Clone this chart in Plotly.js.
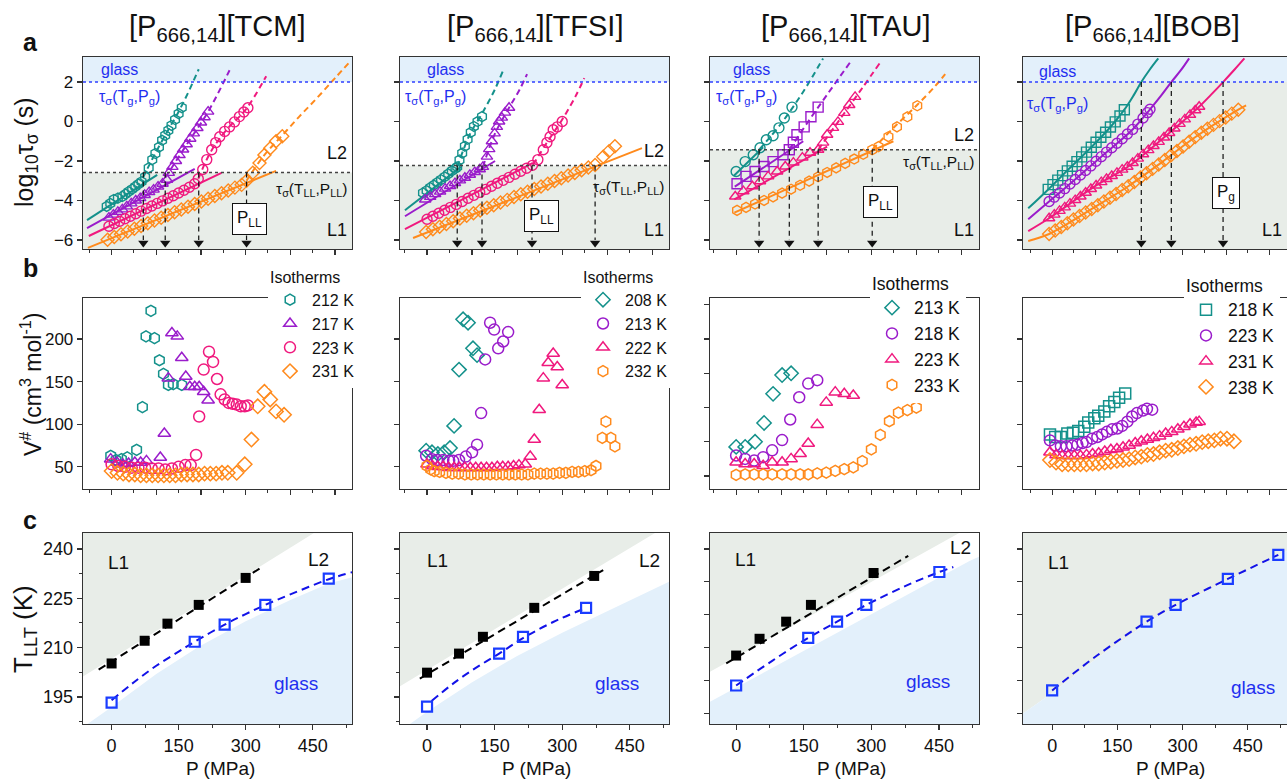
<!DOCTYPE html>
<html><head><meta charset="utf-8">
<script src="https://cdn.plot.ly/plotly-3.0.1.min.js"></script>
<style>html,body{margin:0;padding:0;background:#fff}#chart{width:1287px;height:781px}</style>
</head><body><div id="chart"></div>
<script>
// ---------------- DATA ----------------
const columnNames = ['TCM','TFSI','TAU','BOB'];
// temperatures of the isotherms (legend labels)
const tcm_T = ['212 K','217 K','223 K','231 K'];
const tfsi_T = ['208 K','213 K','222 K','232 K'];
const tau_T = ['213 K','218 K','223 K','233 K'];
const bob_T = ['218 K','223 K','231 K','238 K'];

// ---- row a : log10 tau vs P ----
const tcm_a_212_P=[-11,-3,5,14,24,31,38,46,53,60,67,75,83,91,98,106,113,120,127,134,142,150,157];
const tcm_a_212_y=[-4.3,-4.15,-3.95,-3.88,-3.8,-3.68,-3.55,-3.43,-3.3,-3.17,-3.05,-2.8,-2.35,-1.93,-1.62,-1.3,-0.95,-0.7,-0.45,-0.2,0.1,0.4,0.7];
const tcm_a_212_fitP=[-55,102], tcm_a_212_fitY=[-5.0,-2.7];
const tcm_a_212_dashP=[70,90,110,130,150,170,195], tcm_a_212_dashY=[-2.85,-1.95,-1.1,-0.3,0.5,1.4,2.65];
const tcm_a_217_P=[-6,4,14,24,34,44,54,64,74,84,94,104,114,124,128,136,144,152,160,168,176,184,192,200,208,216];
const tcm_a_217_y=[-4.87,-4.72,-4.58,-4.45,-4.3,-4.15,-4.0,-3.88,-3.72,-3.58,-3.45,-3.3,-3.15,-2.95,-2.6,-2.3,-2.0,-1.7,-1.42,-1.15,-0.87,-0.6,-0.33,-0.05,0.22,0.5];
const tcm_a_217_fitP=[-55,186], tcm_a_217_fitY=[-5.4,-2.4];
const tcm_a_217_dashP=[120,170,216,264], tcm_a_217_dashY=[-2.85,-1.1,0.5,2.6];
const tcm_a_223_P=[-6,6,18,30,42,54,66,78,90,102,114,126,138,150,162,174,186,194,204,213,224,233,242,253,264,275,286,296,305];
const tcm_a_223_y=[-5.31,-5.17,-5.05,-4.93,-4.8,-4.67,-4.54,-4.41,-4.28,-4.15,-4.02,-3.89,-3.76,-3.62,-3.48,-3.33,-3.15,-2.9,-2.43,-1.93,-1.43,-1.07,-0.77,-0.5,-0.27,-0.02,0.25,0.48,0.7];
const tcm_a_223_fitP=[-51,246], tcm_a_223_fitY=[-5.8,-2.6];
const tcm_a_223_dashP=[194,224,260,300,346], tcm_a_223_dashY=[-2.9,-1.45,-0.35,0.6,2.3];
const tcm_a_231_P=[-9,6,21,36,51,66,81,96,111,126,141,156,171,186,201,216,231,246,261,276,291,302,316,331,342,355,368,382];
const tcm_a_231_y=[-5.99,-5.85,-5.71,-5.57,-5.43,-5.29,-5.16,-5.02,-4.88,-4.74,-4.6,-4.46,-4.32,-4.18,-4.05,-3.91,-3.77,-3.63,-3.49,-3.35,-3.21,-3.0,-2.6,-2.1,-1.7,-1.35,-1.0,-0.75];
const tcm_a_231_fitP=[-53,368], tcm_a_231_fitY=[-6.4,-2.5];
const tcm_a_231_dashP=[302,340,380,420,460,500,530], tcm_a_231_dashY=[-3.0,-1.75,-0.75,0.25,1.2,2.2,2.95];

const tfsi_a_208_P=[-9,-1,7,15,23,31,39,47,55,63,67,72,78,84,90,97,104,112,122];
const tfsi_a_208_y=[-3.62,-3.5,-3.35,-3.22,-3.08,-2.95,-2.8,-2.65,-2.5,-2.38,-2.3,-1.95,-1.6,-1.25,-0.9,-0.55,-0.25,0.0,0.25];
const tfsi_a_208_fitP=[-49,75], tfsi_a_208_fitY=[-4.5,-2.3];
const tfsi_a_208_dashP=[67,95,122,150,169], tfsi_a_208_dashY=[-2.3,-0.65,0.4,1.6,2.6];
const tfsi_a_213_P=[-4,7,18,29,40,51,62,73,84,95,106,117,124,133,138,144,150,155,160,166,173,182];
const tfsi_a_213_y=[-3.95,-3.82,-3.68,-3.55,-3.4,-3.27,-3.12,-2.98,-2.85,-2.7,-2.56,-2.42,-2.3,-1.78,-1.4,-1.0,-0.6,-0.27,0.0,0.2,0.45,0.7];
const tfsi_a_213_fitP=[-49,151], tfsi_a_213_fitY=[-4.8,-2.0];
const tfsi_a_213_dashP=[124,150,182,205,222], tfsi_a_213_dashY=[-2.3,-0.65,0.7,1.6,2.4];
const tfsi_a_222_P=[0,13,26,39,52,65,78,91,104,117,130,143,156,169,182,195,208,221,234,246,258,266,273,280,289,300];
const tfsi_a_222_y=[-4.95,-4.8,-4.65,-4.5,-4.35,-4.2,-4.05,-3.89,-3.74,-3.59,-3.44,-3.28,-3.13,-2.98,-2.83,-2.67,-2.52,-2.37,-2.22,-1.93,-1.43,-1.07,-0.77,-0.42,-0.27,0.0];
const tfsi_a_222_fitP=[-49,235], tfsi_a_222_fitY=[-5.45,-2.1];
const tfsi_a_222_dashP=[235,265,300,330,349], tfsi_a_222_dashY=[-2.2,-1.1,0.1,1.3,2.2];
const tfsi_a_232_P=[-2,13,28,43,58,73,88,103,118,133,148,163,178,193,208,223,238,253,268,283,298,313,328,343,358,373,391,404,417];
const tfsi_a_232_y=[-5.6,-5.46,-5.33,-5.19,-5.05,-4.92,-4.78,-4.65,-4.51,-4.37,-4.24,-4.1,-3.97,-3.83,-3.69,-3.56,-3.42,-3.29,-3.15,-3.01,-2.88,-2.74,-2.61,-2.47,-2.33,-2.2,-1.78,-1.5,-1.25];
const tfsi_a_232_fitP=[-31,477], tfsi_a_232_fitY=[-5.9,-1.35];

const tau_a_213_P=[0,20,38,53,67,82,95,107,124];
const tau_a_213_y=[-2.53,-2.03,-1.68,-1.33,-0.92,-0.72,-0.32,0.18,0.73];
const tau_a_213_fitP=[-5,60], tau_a_213_fitY=[-2.75,-1.3];
const tau_a_213_dashP=[51,100,150,193], tau_a_213_dashY=[-1.43,-0.1,1.55,3.2];
const tau_a_218_P=[2,22,42,62,82,104,118,127,135,151,166,182];
const tau_a_218_y=[-3.15,-2.78,-2.53,-2.28,-2.03,-1.68,-1.43,-1.05,-0.67,-0.27,0.24,0.73];
const tau_a_218_fitP=[-3,149], tau_a_218_fitY=[-3.3,-1.0];
const tau_a_218_dashP=[118,160,200,253], tau_a_218_dashY=[-1.43,0.0,1.3,3.0];
const tau_a_223_P=[-2,16,36,53,71,91,109,127,147,164,182,193,202,215,226,240,251,264];
const tau_a_223_y=[-3.8,-3.53,-3.28,-3.03,-2.78,-2.53,-2.28,-2.08,-1.83,-1.58,-1.43,-1.07,-0.67,-0.32,-0.02,0.44,0.84,1.25];
const tau_a_223_fitP=[-4,202], tau_a_223_fitY=[-3.95,-1.27];
const tau_a_223_dashP=[182,230,280,320], tau_a_223_dashY=[-1.43,0.1,1.7,3.0];
const tau_a_233_P=[2,22,42,62,82,102,122,142,162,182,202,222,242,262,282,302,316,338,357,380,402];
const tau_a_233_y=[-4.5,-4.35,-4.18,-4.0,-3.82,-3.63,-3.43,-3.23,-3.02,-2.8,-2.58,-2.35,-2.12,-1.9,-1.66,-1.43,-1.27,-0.77,-0.27,0.24,0.8];
const tau_a_233_fitP=[-4,349], tau_a_233_fitY=[-4.62,-1.0];
const tau_a_233_dashP=[302,350,400,440,464], tau_a_233_dashY=[-1.43,-0.3,0.8,1.75,2.4];

const bob_a_218_P=[-9,2,13,24,35,46,57,68,79,90,101,112,123,134,145,156,166];
const bob_a_218_y=[-3.44,-3.2,-2.97,-2.74,-2.5,-2.27,-2.03,-1.79,-1.55,-1.3,-1.05,-0.8,-0.54,-0.28,-0.02,0.28,0.6];
const bob_a_218_fitP=[-55,-9,40,90,130,166,188,205,225,244], bob_a_218_fitY=[-4.4,-3.44,-2.37,-1.3,-0.38,0.6,1.35,2.0,2.65,3.2];
const bob_a_223_P=[-7,5,17,29,41,53,65,77,89,101,113,125,137,149,161,173,185,197,209,219,225];
const bob_a_223_y=[-4.05,-3.83,-3.62,-3.4,-3.17,-2.94,-2.71,-2.48,-2.25,-2.01,-1.78,-1.55,-1.33,-1.1,-0.87,-0.63,-0.4,-0.13,0.18,0.45,0.62];
const bob_a_223_fitP=[-55,-7,21,113,185,225,250,274,296,315], bob_a_223_fitY=[-4.95,-4.05,-3.54,-1.78,-0.4,0.62,1.3,2.0,2.6,3.2];
const bob_a_231_P=[-7,5,17,29,41,53,65,77,89,101,113,125,137,149,161,173,185,197,209,221,233,245,257,269,281,293,305,317,329,338];
const bob_a_231_y=[-4.9,-4.72,-4.53,-4.35,-4.16,-3.98,-3.8,-3.61,-3.42,-3.24,-3.07,-2.91,-2.76,-2.6,-2.44,-2.29,-2.1,-1.88,-1.66,-1.45,-1.24,-1.03,-0.81,-0.58,-0.35,-0.12,0.11,0.34,0.57,0.75];
const bob_a_231_fitP=[-55,-7,97,175,251,338,365,393,420,442], bob_a_231_fitY=[-5.55,-4.9,-3.3,-2.28,-0.92,0.75,1.35,2.0,2.65,3.2];
const bob_a_238_P=[-7,7,21,35,49,63,77,91,105,119,133,147,161,175,189,203,217,231,245,259,273,287,301,315,329,343,357,371,385,399,413,428];
const bob_a_238_y=[-5.7,-5.52,-5.34,-5.16,-4.97,-4.79,-4.61,-4.43,-4.24,-4.05,-3.86,-3.67,-3.47,-3.28,-3.06,-2.84,-2.62,-2.4,-2.18,-1.95,-1.72,-1.49,-1.26,-1.02,-0.79,-0.57,-0.37,-0.17,0.02,0.2,0.4,0.6];
const bob_a_238_fitP=[-55,-7,97,175,251,327,428,446], bob_a_238_fitY=[-6.05,-5.7,-4.35,-3.28,-2.08,-0.82,0.6,0.82];

// levels: log10 tau at the liquid-liquid transition, and at the glass transition
const tauLL_level=[-2.58,-2.23,-1.43];
const tauG_level=[2,2,2,2];
// pressures of the vertical arrows
const tcm_PLL=[71,120,195,302];
const tfsi_PLL=[67,122,233,373];
const tau_PLL=[51,118,182,302];
const bob_Pg=[205,274,393];

// ---- row b : activation volume ----
const tcm_b_212_P=[-2,10,22,35,56,69,77,88,96,107,116,127,138,157];
const tcm_b_212_V=[63,58,59,61,70,120,203,233,201,175,159,146,147,146];
const tcm_b_217_P=[-2,12,25,38,52,65,78,109,118,127,135,147,157,166,175,186,196,206,216];
const tcm_b_217_V=[59,55,53,54,55,55,57,61,89,154,207,203,178,156,144,144,144,138,128];
const tcm_b_223_P=[0,15,30,45,60,75,90,105,120,135,150,165,177,189,196,206,218,227,236,244,253,262,271,280,289,298,305];
const tcm_b_223_V=[53,51,50,49,49,49,48,48,47,48,50,52,52,64,109,164,185,173,153,135,129,125,124,123,121,121,122];
const tcm_b_231_P=[0,13,26,39,52,65,78,91,104,117,130,143,156,169,182,195,208,221,234,247,260,280,298,313,327,342,355,368,386];
const tcm_b_231_V=[45,43,42,41,41,40,40,40,40,40,40,40,41,41,41,41,42,42,42,43,43,43,53,82,121,138,129,115,111];

const tfsi_b_208_P=[-2,11,24,38,51,60,71,80,91,102,111];
const tfsi_b_208_V=[69,67,65,67,72,98,164,223,219,189,181];
const tfsi_b_213_P=[-2,11,22,36,49,58,71,86,100,111,120,129,140,149,158,169,180];
const tfsi_b_213_V=[63,59,58,58,57,57,58,62,67,76,113,176,219,211,189,197,208];
const tfsi_b_222_P=[0,12,24,36,48,60,72,84,96,108,120,132,144,156,168,180,192,204,218,229,238,249,258,269,280,289,300];
const tfsi_b_222_V=[53,51,50,50,49,49,49,49,49,49,49,49,49,50,50,50,51,52,53,62,82,117,154,172,183,167,146];
const tfsi_b_232_P=[0,8,16,28,42,56,70,84,98,112,126,140,154,168,182,196,210,224,238,252,266,280,294,308,322,336,350,364,375,389,397,408,417];
const tfsi_b_232_V=[51,47,45,44,43,42,42,41,41,41,41,41,41,41,41,41,41,41,42,42,42,42,43,43,44,44,45,46,51,84,103,84,74];

const tau_b_213_P=[0,20,42,62,82,102,122];
const tau_b_213_V=[57,57,60,71,88,99,100];
const tau_b_218_P=[0,20,40,60,80,102,120,140,160,180];
const tau_b_218_V=[52,50,49,51,55,61,73,86,94,96];
const tau_b_223_P=[0,20,40,60,80,102,122,142,160,180,200,220,240,260];
const tau_b_223_V=[48,47,47,46,48,48,50,53,59,70,83,89,88,87];
const tau_b_233_P=[0,20,40,60,80,102,122,142,160,180,200,220,240,260,280,300,320,340,360,380,400];
const tau_b_233_V=[40.7,41,41,41,41,41,41,41,41,41.5,42,43,44,45,48.7,55.6,64,72,77,78.5,80];

const bob_b_218_P=[-5,7,20,35,48,60,74,83,97,106,120,131,143,154,168];
const bob_b_218_V=[88,85,85,89,90,92,97,102,107,110,115,121,126,131,136];
const bob_b_223_P=[-5,7,20,33,46,58,70,79,92,104,115,126,138,150,161,173,184,195,209,218,230];
const bob_b_223_V=[81,75,74,74,75,76,78,79,83,85,88,91,94,95,98,103,109,113,116,118,117];
const bob_b_231_P=[-5,9,23,37,51,65,79,93,107,121,135,149,163,177,191,205,219,233,247,261,275,289,303,317,331,338];
const bob_b_231_V=[67,64,63,63,63,63,64,65,66,68,70,71,73,75,78,80,82,84,86,89,91,94,97,100,102,103];
const bob_b_238_P=[-5,9,23,37,51,65,79,93,107,121,135,149,163,177,191,205,219,233,247,261,275,289,303,317,331,345,359,373,387,402,418];
const bob_b_238_V=[58,55,53,53,53,53,53,54,54,55,56,57,58,59,61,62,64,65,67,69,70,72,74,76,77,79,80,81,83,83,80];

// ---- row c : T_LLT vs P ----
const tcm_c_LL_P=[0,74,125,195,300], tcm_c_LL_T=[205.2,212.1,217.3,223,231.2];
const tcm_c_LLfit_P=[-29,333], tcm_c_LLfit_T=[203.3,234.2];
const tcm_c_g_P=[0,186,253,344,486], tcm_c_g_T=[193.3,211.8,217,223,231];
const tcm_c_gfit_P=[0,50,100,150,186,253,300,344,400,486,540], tcm_c_gfit_T=[194,199.5,204.5,208.8,211.8,217,220.2,223,226.2,230.8,233];
const tcm_c_L1bound_P=[-64,452], tcm_c_L1bound_T=[201.2,244.8];
const tcm_c_gbound_P=[-54,0,100,195,300,400,486,540], tcm_c_gbound_T=[186.8,192,202,210.3,218,224.5,229.5,231.5];

const tfsi_c_LL_P=[0,71,124,238,371], tfsi_c_LL_T=[202.4,208.2,213.3,222.1,231.8];
const tfsi_c_LLfit_P=[-16,391], tfsi_c_LLfit_T=[200.6,233.6];
const tfsi_c_g_P=[0,160,213,353], tfsi_c_g_T=[192.1,208.2,213.3,222.1];
const tfsi_c_gfit_P=[10,60,110,160,213,280,353], tfsi_c_gfit_T=[193.8,199.3,204,208.2,212.9,217.8,222.1];
const tfsi_c_L1bound_P=[-60,506], tfsi_c_L1bound_T=[198.3,244.85];
const tfsi_c_gbound_P=[-38,0,100,200,300,400,537], tfsi_c_gbound_T=[186.8,190.5,199.5,207.5,214.5,221,230];

const tau_c_LL_P=[0,52,111,166,305], tau_c_LL_T=[207.6,212.7,217.9,223.0,232.7];
const tau_c_LLfit_P=[-22,382], tau_c_LLfit_T=[205.2,237.9];
const tau_c_g_P=[0,160,224,289,451], tau_c_g_T=[198.5,213.0,217.9,223.0,233.0];
const tau_c_gfit_P=[0,80,160,224,289,380,451,482], tau_c_gfit_T=[198.5,206,213,217.9,223,229,233,234.5];
const tau_c_L1bound_P=[-58,497], tau_c_L1bound_T=[202.7,245];
const tau_c_gbound_P=[-58,519,539], tau_c_gbound_T=[193.6,236.4,237.6];

const bob_c_g_P=[0,217,284,404,520], bob_c_g_T=[197,217.9,223,230.9,238.2];
const bob_c_gfit_P=[0,100,217,284,404,520], bob_c_gfit_T=[197,207.3,217.9,223,230.9,238.2];
const bob_c_gbound_P=[-67,0,100,217,284,404,520,540], bob_c_gbound_T=[190,196.2,206.5,217.3,222.5,230.5,238.2,239.4];

// ---------------- STYLE / LAYOUT ----------------
const W=1287, H=781;
const FONT='Liberation Sans, Arial, Helvetica, sans-serif';
const TEAL='#14918B', PURPLE='#9A1CCB', PINK='#F0197E', ORANGE='#FF8A1C';
const BLUE='#1f2ff0', SQBLUE='#1a3cff', LBLUE='#E3F0FB', GGRAY='#E8EDE8', AXC='#333333';
const colPix=[[83,352],[400,669],[710,979],[1023,1287]];
const rowPix=[[57,249],[298,489],[533,724]];
const xRanges=[[-64,538],[-60,537],[-58,539],[-67,540]];
const yRangeA=[-6.46,3.27];
const yRangeB=[[24,248],[24,248],[32.4,144],[24,248]];
const yRangeC=[186.8,244.85];

function ids(r,c){const i=r*4+c+1;const s=i===1?'':String(i);return {x:'x'+s,y:'y'+s,xl:'xaxis'+s,yl:'yaxis'+s};}

const cols=[TEAL,PURPLE,PINK,ORANGE];
const seriesA=[
 [ {P:tcm_a_212_P,Y:tcm_a_212_y,fP:tcm_a_212_fitP,fY:tcm_a_212_fitY,dP:tcm_a_212_dashP,dY:tcm_a_212_dashY,sym:'hexagon-open'},
   {P:tcm_a_217_P,Y:tcm_a_217_y,fP:tcm_a_217_fitP,fY:tcm_a_217_fitY,dP:tcm_a_217_dashP,dY:tcm_a_217_dashY,sym:'triangle-up-open'},
   {P:tcm_a_223_P,Y:tcm_a_223_y,fP:tcm_a_223_fitP,fY:tcm_a_223_fitY,dP:tcm_a_223_dashP,dY:tcm_a_223_dashY,sym:'circle-open'},
   {P:tcm_a_231_P,Y:tcm_a_231_y,fP:tcm_a_231_fitP,fY:tcm_a_231_fitY,dP:tcm_a_231_dashP,dY:tcm_a_231_dashY,sym:'diamond-open'} ],
 [ {P:tfsi_a_208_P,Y:tfsi_a_208_y,fP:tfsi_a_208_fitP,fY:tfsi_a_208_fitY,dP:tfsi_a_208_dashP,dY:tfsi_a_208_dashY,sym:'hexagon-open'},
   {P:tfsi_a_213_P,Y:tfsi_a_213_y,fP:tfsi_a_213_fitP,fY:tfsi_a_213_fitY,dP:tfsi_a_213_dashP,dY:tfsi_a_213_dashY,sym:'triangle-up-open'},
   {P:tfsi_a_222_P,Y:tfsi_a_222_y,fP:tfsi_a_222_fitP,fY:tfsi_a_222_fitY,dP:tfsi_a_222_dashP,dY:tfsi_a_222_dashY,sym:'circle-open'},
   {P:tfsi_a_232_P,Y:tfsi_a_232_y,fP:tfsi_a_232_fitP,fY:tfsi_a_232_fitY,sym:'diamond-open'} ],
 [ {P:tau_a_213_P,Y:tau_a_213_y,fP:tau_a_213_fitP,fY:tau_a_213_fitY,dP:tau_a_213_dashP,dY:tau_a_213_dashY,sym:'circle-open'},
   {P:tau_a_218_P,Y:tau_a_218_y,fP:tau_a_218_fitP,fY:tau_a_218_fitY,dP:tau_a_218_dashP,dY:tau_a_218_dashY,sym:'square-open'},
   {P:tau_a_223_P,Y:tau_a_223_y,fP:tau_a_223_fitP,fY:tau_a_223_fitY,dP:tau_a_223_dashP,dY:tau_a_223_dashY,sym:'triangle-up-open'},
   {P:tau_a_233_P,Y:tau_a_233_y,fP:tau_a_233_fitP,fY:tau_a_233_fitY,dP:tau_a_233_dashP,dY:tau_a_233_dashY,sym:'hexagon-open'} ],
 [ {P:bob_a_218_P,Y:bob_a_218_y,fP:bob_a_218_fitP,fY:bob_a_218_fitY,sym:'square-open'},
   {P:bob_a_223_P,Y:bob_a_223_y,fP:bob_a_223_fitP,fY:bob_a_223_fitY,sym:'circle-open'},
   {P:bob_a_231_P,Y:bob_a_231_y,fP:bob_a_231_fitP,fY:bob_a_231_fitY,sym:'triangle-up-open'},
   {P:bob_a_238_P,Y:bob_a_238_y,fP:bob_a_238_fitP,fY:bob_a_238_fitY,sym:'diamond-open'} ]
];
const seriesB=[
 [ {P:tcm_b_212_P,V:tcm_b_212_V,sym:'hexagon-open',name:tcm_T[0]},{P:tcm_b_217_P,V:tcm_b_217_V,sym:'triangle-up-open',name:tcm_T[1]},
   {P:tcm_b_223_P,V:tcm_b_223_V,sym:'circle-open',name:tcm_T[2]},{P:tcm_b_231_P,V:tcm_b_231_V,sym:'diamond-open',name:tcm_T[3]} ],
 [ {P:tfsi_b_208_P,V:tfsi_b_208_V,sym:'diamond-open',name:tfsi_T[0]},{P:tfsi_b_213_P,V:tfsi_b_213_V,sym:'circle-open',name:tfsi_T[1]},
   {P:tfsi_b_222_P,V:tfsi_b_222_V,sym:'triangle-up-open',name:tfsi_T[2]},{P:tfsi_b_232_P,V:tfsi_b_232_V,sym:'hexagon-open',name:tfsi_T[3]} ],
 [ {P:tau_b_213_P,V:tau_b_213_V,sym:'diamond-open',name:tau_T[0]},{P:tau_b_218_P,V:tau_b_218_V,sym:'circle-open',name:tau_T[1]},
   {P:tau_b_223_P,V:tau_b_223_V,sym:'triangle-up-open',name:tau_T[2]},{P:tau_b_233_P,V:tau_b_233_V,sym:'hexagon-open',name:tau_T[3]} ],
 [ {P:bob_b_218_P,V:bob_b_218_V,sym:'square-open',name:bob_T[0]},{P:bob_b_223_P,V:bob_b_223_V,sym:'circle-open',name:bob_T[1]},
   {P:bob_b_231_P,V:bob_b_231_V,sym:'triangle-up-open',name:bob_T[2]},{P:bob_b_238_P,V:bob_b_238_V,sym:'diamond-open',name:bob_T[3]} ]
];
const seriesC=[
 {LL:[tcm_c_LL_P,tcm_c_LL_T],LLfit:[tcm_c_LLfit_P,tcm_c_LLfit_T],g:[tcm_c_g_P,tcm_c_g_T],gfit:[tcm_c_gfit_P,tcm_c_gfit_T],L1b:[tcm_c_L1bound_P,tcm_c_L1bound_T],gb:[tcm_c_gbound_P,tcm_c_gbound_T]},
 {LL:[tfsi_c_LL_P,tfsi_c_LL_T],LLfit:[tfsi_c_LLfit_P,tfsi_c_LLfit_T],g:[tfsi_c_g_P,tfsi_c_g_T],gfit:[tfsi_c_gfit_P,tfsi_c_gfit_T],L1b:[tfsi_c_L1bound_P,tfsi_c_L1bound_T],gb:[tfsi_c_gbound_P,tfsi_c_gbound_T]},
 {LL:[tau_c_LL_P,tau_c_LL_T],LLfit:[tau_c_LLfit_P,tau_c_LLfit_T],g:[tau_c_g_P,tau_c_g_T],gfit:[tau_c_gfit_P,tau_c_gfit_T],L1b:[tau_c_L1bound_P,tau_c_L1bound_T],gb:[tau_c_gbound_P,tau_c_gbound_T]},
 {g:[bob_c_g_P,bob_c_g_T],gfit:[bob_c_gfit_P,bob_c_gfit_T],L1b:[bob_c_gbound_P,bob_c_gbound_T],gb:[bob_c_gbound_P,bob_c_gbound_T]}
];
const arrowsP=[tcm_PLL,tfsi_PLL,tau_PLL,bob_Pg];

const traces=[]; const shapes=[]; const annotations=[];
const layout={width:W,height:H,margin:{l:0,r:0,t:0,b:0},paper_bgcolor:'#fff',plot_bgcolor:'rgba(0,0,0,0)',
  showlegend:true,font:{family:FONT,color:'#111'}};

// axes
for(let r=0;r<3;r++)for(let c=0;c<4;c++){
  const a=ids(r,c);
  const common={showline:true,mirror:true,linecolor:AXC,linewidth:1.3,ticks:'outside',ticklen:5,tickwidth:1.2,tickcolor:AXC,
    showgrid:false,zeroline:false,fixedrange:true,tickfont:{family:FONT,size:17,color:'#111'},autorange:false};
  const xa=Object.assign({},common,{domain:[colPix[c][0]/W,colPix[c][1]/W],range:xRanges[c],anchor:a.y});
  if(r<2){Object.assign(xa,{tick0:0,dtick:100,showticklabels:false,minor:{dtick:50,ticks:'outside',ticklen:3,tickcolor:AXC,tickwidth:1}});}
  else{Object.assign(xa,{tick0:0,dtick:150,showticklabels:true,minor:{dtick:75,ticks:'outside',ticklen:3,tickcolor:AXC,tickwidth:1},tickfont:{family:FONT,size:18,color:'#111'}});}
  const ya=Object.assign({},common,{domain:[1-rowPix[r][1]/H,1-rowPix[r][0]/H],anchor:a.x,showticklabels:c===0});
  if(r===0){Object.assign(ya,{range:yRangeA,tick0:0,dtick:2});}
  else if(r===1){Object.assign(ya,{range:yRangeB[c],tick0:(c===2?40:50),dtick:(c===2?20:50)});}
  else{Object.assign(ya,{range:yRangeC,tick0:(c<2?195:190),dtick:(c<2?15:10),tickfont:{family:FONT,size:18,color:'#111'}});
       if(c<2) ya.minor={dtick:7.5,ticks:'outside',ticklen:3,tickcolor:AXC,tickwidth:1};}
  layout[a.xl]=xa; layout[a.yl]=ya;
}

// ---- row a ----
for(let c=0;c<4;c++){
  const a=ids(0,c);
  const xd=a.x+' domain';
  const top=yRangeA[1], bot=yRangeA[0];
  shapes.push({type:'rect',xref:xd,yref:a.y,x0:0,x1:1,y0:tauG_level[c],y1:top,fillcolor:LBLUE,line:{width:0},layer:'below'});
  const lvl=(c<3?tauLL_level[c]:tauG_level[c]);
  shapes.push({type:'rect',xref:xd,yref:a.y,x0:0,x1:1,y0:bot,y1:lvl,fillcolor:GGRAY,line:{width:0},layer:'below'});
  shapes.push({type:'line',xref:xd,yref:a.y,x0:0,x1:1,y0:tauG_level[c],y1:tauG_level[c],line:{color:'#3040ff',width:1.5,dash:'3px,3px'}});
  if(c<3) shapes.push({type:'line',xref:xd,yref:a.y,x0:0,x1:1,y0:lvl,y1:lvl,line:{color:'#444',width:1.5,dash:'3px,3px'}});
  arrowsP[c].forEach(p=>{
    shapes.push({type:'line',xref:a.x,yref:a.y,x0:p,x1:p,y0:lvl,y1:-6.0,line:{color:'#111',width:1.2,dash:'5px,4px'}});
  });
  // arrow heads at the bottom of each dashed drop line
  traces.push({type:'scatter',mode:'markers',x:arrowsP[c],y:arrowsP[c].map(()=>-6.16),xaxis:a.x,yaxis:a.y,
    marker:{symbol:'triangle-down',size:9,color:'#111'},showlegend:false,hoverinfo:'skip',cliponaxis:false});
  seriesA[c].forEach((s,i)=>{
    traces.push({type:'scatter',mode:'lines',x:s.fP,y:s.fY,xaxis:a.x,yaxis:a.y,line:{color:cols[i],width:2,shape:(c===3?'spline':'linear')},showlegend:false,hoverinfo:'skip'});
    if(s.dP) traces.push({type:'scatter',mode:'lines',x:s.dP,y:s.dY,xaxis:a.x,yaxis:a.y,line:{color:cols[i],width:2,dash:'6px,4px',shape:'spline'},showlegend:false,hoverinfo:'skip'});
    traces.push({type:'scatter',mode:'markers',x:s.P,y:s.Y,xaxis:a.x,yaxis:a.y,marker:{symbol:s.sym,size:10,color:cols[i],line:{width:1.4,color:cols[i]}},showlegend:false,hoverinfo:'skip'});
  });
}

// ---- row b ----
const legNames=['legend','legend2','legend3','legend4'];
const legPos=[[268,262,16],[581,262,16],[870,267,17.5],[1184,269,17.5]];
for(let c=0;c<4;c++){
  const a=ids(1,c);
  seriesB[c].forEach((s,i)=>{
    traces.push({type:'scatter',mode:'markers',name:s.name,x:s.P,y:s.V,xaxis:a.x,yaxis:a.y,legend:legNames[c],
      marker:{symbol:s.sym,size:11,color:cols[i],line:{width:1.5,color:cols[i]}},hoverinfo:'skip'});
  });
  const lp=legPos[c];
  layout[legNames[c]]={x:lp[0]/W,y:1-lp[1]/H,xanchor:'left',yanchor:'top',bgcolor:'#ffffff',borderwidth:0,
    font:{family:FONT,size:lp[2],color:'#111'},title:{text:'Isotherms',font:{family:FONT,size:lp[2],color:'#111'}},
    tracegroupgap:0,itemwidth:34};
}

// ---- row c ----
for(let c=0;c<4;c++){
  const a=ids(2,c); const s=seriesC[c];
  const xr=xRanges[c];
  const L1x=s.L1b[0].concat([xr[1],xr[0]]), L1y=s.L1b[1].concat([yRangeC[1],yRangeC[1]]);
  traces.push({type:'scatter',mode:'lines',x:L1x,y:L1y,fill:'toself',fillcolor:GGRAY,line:{width:0},xaxis:a.x,yaxis:a.y,showlegend:false,hoverinfo:'skip'});
  const gx=s.gb[0].concat([xr[1],xr[0]]), gy=s.gb[1].concat([yRangeC[0],yRangeC[0]]);
  traces.push({type:'scatter',mode:'lines',x:gx,y:gy,fill:'toself',fillcolor:LBLUE,line:{width:0},xaxis:a.x,yaxis:a.y,showlegend:false,hoverinfo:'skip'});
  if(s.LLfit) traces.push({type:'scatter',mode:'lines',x:s.LLfit[0],y:s.LLfit[1],xaxis:a.x,yaxis:a.y,line:{color:'#000',width:2,dash:'8px,5px'},showlegend:false,hoverinfo:'skip'});
  traces.push({type:'scatter',mode:'lines',x:s.gfit[0],y:s.gfit[1],xaxis:a.x,yaxis:a.y,line:{color:'#1212e8',width:2,dash:'8px,5px',shape:'spline'},showlegend:false,hoverinfo:'skip'});
  if(s.LL) traces.push({type:'scatter',mode:'markers',x:s.LL[0],y:s.LL[1],xaxis:a.x,yaxis:a.y,marker:{symbol:'square',size:10,color:'#000'},showlegend:false,hoverinfo:'skip'});
  traces.push({type:'scatter',mode:'markers',x:s.g[0],y:s.g[1],xaxis:a.x,yaxis:a.y,marker:{symbol:'square-open',size:10,color:SQBLUE,line:{width:2.2,color:SQBLUE}},showlegend:false,hoverinfo:'skip'});
}

// ---- texts ----
function ann(o){annotations.push(Object.assign({showarrow:false,font:{family:FONT,size:17,color:'#111'}},o));}
function pann(px,py,text,font,extra){ann(Object.assign({xref:'paper',yref:'paper',x:px/W,y:1-py/H,xanchor:'center',yanchor:'middle',text:text,font:font},extra||{}));}
const tg='τ<sub>σ</sub>(T<sub>g</sub>,P<sub>g</sub>)', tll='τ<sub>σ</sub>(T<sub>LL</sub>,P<sub>LL</sub>)';
const aTxt=[
  {glass:[-28,2.62],tg:[-32,1.2],L2:-1.58,tll:-3.45,box:[309,-4.95,'P<sub>LL</sub>']},
  {glass:[-4,2.62],tg:[-53,1.2],L2:-1.5,tll:-3.34,box:[255,-4.8,'P<sub>LL</sub>']},
  {glass:[-11,2.62],tg:[-49,1.2],L2:-0.67,tll:-2.08,box:[320,-4.1,'P<sub>LL</sub>']},
  {glass:[-35,2.55],tg:[-62,0.84],box:[400,-3.6,'P<sub>g</sub>']}
];
aTxt.forEach((t,c)=>{
  const a=ids(0,c);
  ann({xref:a.x,yref:a.y,x:t.glass[0],y:t.glass[1],xanchor:'left',yanchor:'middle',text:'glass',font:{family:FONT,size:16,color:BLUE}});
  ann({xref:a.x,yref:a.y,x:t.tg[0],y:t.tg[1],xanchor:'left',yanchor:'middle',text:tg,font:{family:FONT,size:16,color:BLUE}});
  if(t.L2!==undefined){
    ann({xref:a.x+' domain',yref:a.y,x:0.99,y:t.L2,xanchor:'right',yanchor:'middle',text:'L2',font:{family:FONT,size:18,color:'#111'}});
    ann({xref:a.x+' domain',yref:a.y,x:0.99,y:t.tll,xanchor:'right',yanchor:'middle',text:tll,font:{family:FONT,size:15.5,color:'#111'}});
  }
  ann({xref:a.x+' domain',yref:a.y,x:0.99,y:-5.5,xanchor:'right',yanchor:'middle',text:'L1',font:{family:FONT,size:18,color:'#111'}});
  ann({xref:a.x,yref:a.y,x:t.box[0],y:t.box[1],xanchor:'center',yanchor:'middle',text:t.box[2],bgcolor:'#fff',bordercolor:'#111',borderwidth:1,borderpad:4,font:{family:FONT,size:17,color:'#111'}});
});
const cTxt=[
  {L1:[-13,236],L2:[434,236.7],glass:[412,199]},
  {L1:[-4,236.4],L2:[466,236.4],glass:[422,199]},
  {L1:[-7,236.7],L2:[470,240.3],glass:[426,199.7]},
  {L1:[-14,236],glass:[462,198]}
];
cTxt.forEach((t,c)=>{
  const a=ids(2,c);
  ann({xref:a.x,yref:a.y,x:t.L1[0],y:t.L1[1],xanchor:'left',yanchor:'middle',text:'L1',font:{family:FONT,size:19,color:'#111'}});
  if(t.L2) ann({xref:a.x,yref:a.y,x:t.L2[0],y:t.L2[1],xanchor:'left',yanchor:'middle',text:'L2',font:{family:FONT,size:19,color:'#111'}});
  ann({xref:a.x,yref:a.y,x:t.glass[0],y:t.glass[1],xanchor:'center',yanchor:'middle',text:'glass',font:{family:FONT,size:19,color:BLUE}});
});
// column titles
const titleX=[217,535,845,1152];
columnNames.forEach((n,c)=>pann(titleX[c],28,'[P<sub>666,14</sub>]['+n+']',{family:FONT,size:29,color:'#111'}));
// panel letters
[['a',42],['b',268],['c',520]].forEach(p=>pann(30,p[1],'<b>'+p[0]+'</b>',{family:FONT,size:25,color:'#111'}));
// y titles
pann(26,152,'log<sub>10</sub>τ<sub>σ</sub> (s)',{family:FONT,size:25,color:'#111'},{textangle:-90});
pann(31,385,'V<sup>#</sup> (cm<sup>3</sup> mol<sup>-1</sup>)',{family:FONT,size:23,color:'#111'},{textangle:-90});
pann(24,629,'T<sub>LLT</sub> (K)',{family:FONT,size:26,color:'#111'},{textangle:-90});
// x titles
const xtX=[220,536,851,1170];
xtX.forEach(x=>pann(x,768,'P (MPa)',{family:FONT,size:19,color:'#111'}));

layout.shapes=shapes; layout.annotations=annotations;
Plotly.newPlot('chart',traces,layout,{displayModeBar:false,staticPlot:true});
</script></body></html>
